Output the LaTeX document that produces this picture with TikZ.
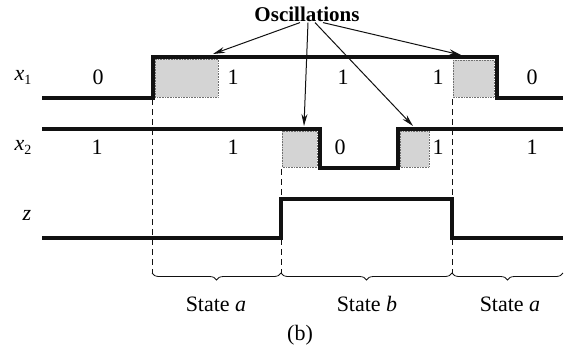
\documentclass[tikz,border=0pt]{standalone}
\usepackage{fontspec}
\setmainfont{Liberation Serif}
\usepackage{tikz}
\usetikzlibrary{arrows.meta,positioning,decorations.pathreplacing}
\definecolor{ink}{HTML}{111111}
\definecolor{osc}{HTML}{D4D4D4}
\newcommand{\signame}[2]{\textit{#1}\raisebox{-4pt}{\fontsize{14}{14}\selectfont #2}}

\begin{document}
\begin{tikzpicture}[x=1pt,y=-1pt,
    every node/.style={font=\fontsize{22}{26}\selectfont,inner sep=1pt},
    wave/.style={draw=ink,line width=3.8pt,line join=miter},
    oscbox/.style={fill=osc,draw=ink!60,densely dotted,line width=0.6pt},
    guide/.style={draw=ink,line width=0.8pt,dash pattern=on 6pt off 4pt},
    pointer/.style={draw=ink,line width=1pt,-{Stealth[length=12pt,width=6pt]}},
    statebrace/.style={draw=ink,line width=0.8pt,decorate,
                       decoration={brace,mirror,amplitude=7pt}}]
  \useasboundingbox (0,0) rectangle (565,349);

  % shaded oscillation intervals
  \path[oscbox] (155,59) rectangle (218,97);
  \path[oscbox] (453,60) rectangle (494,97);
  \path[oscbox] (282,131) rectangle (317,167);
  \path[oscbox] (400,131) rectangle (429,167);

  % state boundaries
  \draw[guide] (152,99) -- (152,273);
  \draw[guide] (281,169) -- (281,273);
  \draw[guide] (452,99) -- (452,273);

  % waveforms
  \draw[wave] (42,98) -- (153,98) -- (153,57) -- (497,57) -- (497,98) -- (563,98);
  \draw[wave] (42,129) -- (320,129) -- (320,168) -- (398,168) -- (398,129) -- (563,129);
  \draw[wave] (42,238) -- (281,238) -- (281,199) -- (452,199) -- (452,238) -- (563,238);

  % signal names and values
  \node (lx1) at (23,77) {\signame{x}{1}};
  \node (lx2) at (23,147) {\signame{x}{2}};
  \node (lz) at (27,215) {\textit{z}};
  \node (x1a) at (98,77) {0};
  \node (x1b) at (233,77) {1};
  \node (x1c) at (343,77) {1};
  \node (x1d) at (438,77) {1};
  \node (x1e) at (532,77) {0};
  \node (x2a) at (97,147) {1};
  \node (x2b) at (233,147) {1};
  \node (x2c) at (340,147) {0};
  \node (x2d) at (438,147) {1};
  \node (x2e) at (532,147) {1};

  % oscillation pointers
  \node[font=\fontsize{21}{25}\selectfont\bfseries] (osc) at (307,14) {Oscillations};
  \coordinate (t1) at (213,54);
  \coordinate (t2) at (304,126);
  \coordinate (t3) at (413,126);
  \coordinate (t4) at (461,55);
  \draw[pointer] ([xshift=-7pt]osc.south) -- (t1);
  \draw[pointer] ([xshift=1pt]osc.south) -- (t2);
  \draw[pointer] ([xshift=8pt]osc.south) -- (t3);
  \draw[pointer] ([xshift=16pt]osc.south) -- (t4);

  % states
  \coordinate (s0) at (152,273);
  \coordinate (s1) at (281,273);
  \coordinate (s2) at (452,273);
  \coordinate (s3) at (563,273);
  \draw[statebrace] (s0) -- (s1);
  \draw[statebrace] (s1) -- (s2);
  \draw[statebrace] (s2) -- (s3);
  \node (sa) at (216,304) {State \textit{a}};
  \node (sb) at (367,304) {State \textit{b}};
  \node (sc) at (510,304) {State \textit{a}};
  \node (cap) at (300,335) {(b)};
\end{tikzpicture}
\end{document}
